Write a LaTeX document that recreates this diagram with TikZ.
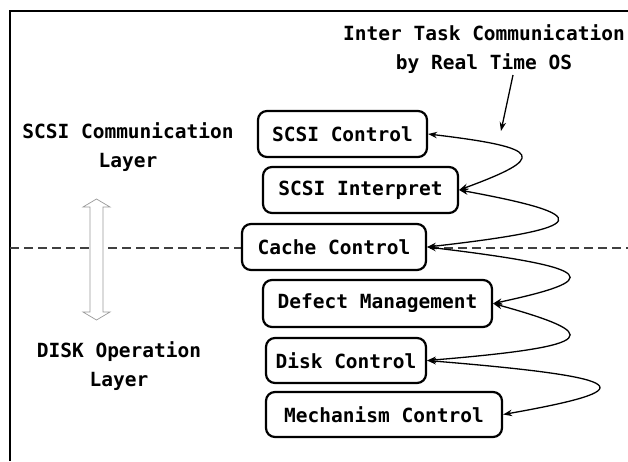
\documentclass[tikz,border=0pt]{standalone}
\usepackage{fontspec}
\newfontfamily\monofont{DejaVu Sans Mono}
\usetikzlibrary{arrows.meta}
\begin{document}
\begin{tikzpicture}[x=1pt,y=-1pt,
  box/.style={draw, line width=2.2pt, rounded corners=9pt, fill=white, minimum height=46pt, inner sep=0pt, font=\monofont\bfseries\fontsize{19.5}{23}\selectfont},
  lbl/.style={align=center, font=\monofont\bfseries\fontsize{19.5}{28.5}\selectfont, inner sep=0pt},
  link/.style={line width=1.3pt, {Stealth[length=9pt,width=6.5pt]}-{Stealth[length=9pt,width=6.5pt]}},
  hollow/.style={draw=black!40, line width=0.7pt, fill=white},
  frame/.style={line width=1.5pt}]
\useasboundingbox (0,0) rectangle (628,461);
% frame
\coordinate (fb) at (10,461);
\coordinate (fc) at (10,11);
\coordinate (fr) at (628,11);
\draw[frame] (fb) -- (fc) -- (fr);
% dashed layer boundary
\coordinate (dl) at (10,248);
\coordinate (dr) at (628,248);
\draw[dash pattern=on 9pt off 5pt, line width=1.2pt, black!75] (dl) -- (dr);
% hollow double arrow
\draw[hollow] (96.5,199) -- (110,207) -- (103,207) -- (103,312) -- (110,312) -- (96.5,320)
  -- (83,312) -- (90,312) -- (90,207) -- (83,207) -- cycle;
% labels
\node[lbl] (scl) at (128,147) {SCSI Communication\\Layer};
\node[lbl] (dol) at (119,366) {DISK Operation\\Layer};
\node[lbl] (itc) at (484,49) {Inter Task Communication\\by Real Time OS};
% boxes
\node[box, minimum width=169pt] (sc) at (342.5,134) {SCSI Control};
\node[box, minimum width=195pt] (si) at (360.5,190) {SCSI Interpret};
\node[box, minimum width=184pt] (cc) at (334,247) {Cache Control};
\node[box, minimum width=229pt, minimum height=47pt] (dm) at (377.5,303.5) {Defect Management};
\node[box, minimum width=160pt, minimum height=45pt] (dc) at (346,360.5) {Disk Control};
\node[box, minimum width=236pt, minimum height=45pt] (mc) at (384,414.5) {Mechanism Control};
% curved links
\draw[link] (sc.east) .. controls (546,148) and (546,158) .. (si.east);
\draw[link] (si.east) .. controls (595,215) and (595,228) .. (cc.east);
\draw[link] (cc.east) .. controls (603,268) and (603,280) .. (dm.east);
\draw[link] (dm.east) .. controls (603,334) and (603,346) .. (dc.east);
\draw[link] (dc.east) .. controls (641,378) and (641,390) .. (mc.east);
% pointer from label
\coordinate (pa) at (513,75);
\coordinate (pb) at (501,131);
\draw[line width=1.3pt, -{Stealth[length=9pt,width=6.5pt]}] (pa) -- (pb);
\end{tikzpicture}
\end{document}
